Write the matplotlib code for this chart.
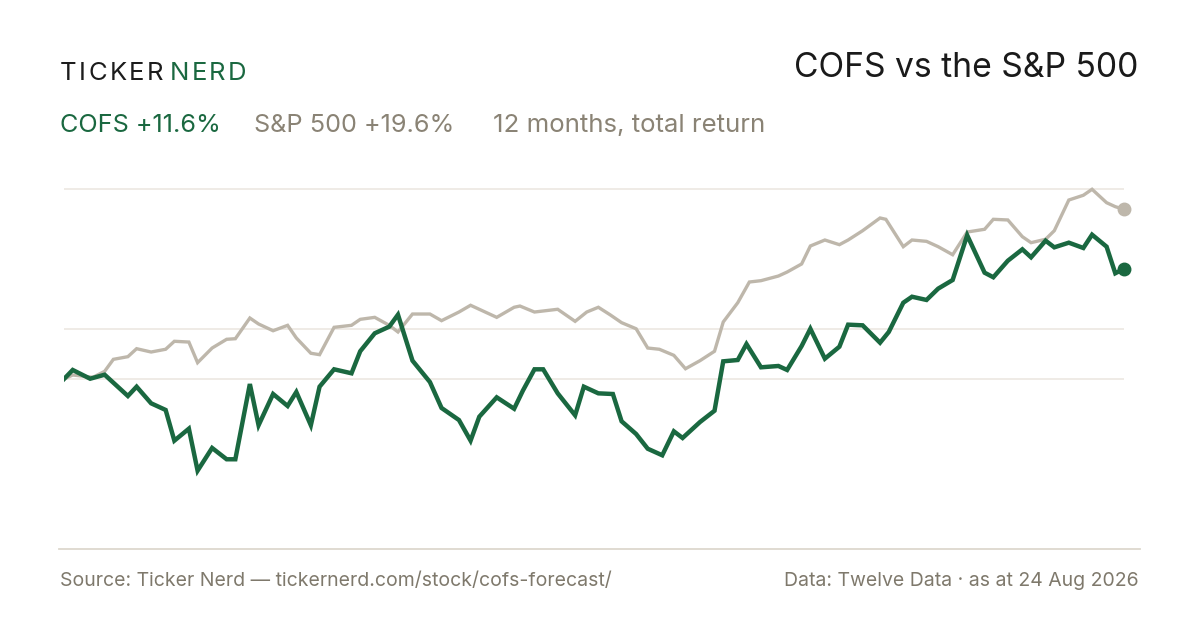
import matplotlib.pyplot as plt
from matplotlib.lines import Line2D

# days since start, % return
cofs_days = [0, 3, 9, 14, 22, 25, 30, 35, 38, 43, 46, 51, 56, 59, 64, 67, 72, 77, 80, 85,
             88, 93, 99, 102, 107, 112, 115, 120, 126, 130, 136, 140, 143, 149, 155, 158,
             162, 165, 170, 176, 179, 184, 189, 192, 197, 201, 206, 210, 213, 219, 224,
             227, 232, 235, 240, 246, 249, 254, 257, 262, 267, 270, 275, 281, 284, 289,
             292, 297, 301, 306, 311, 317, 320, 325, 330, 333, 338, 341, 346, 351, 354,
             359, 362, 365]
cofs_ret = [0.0, 0.95, 0.03, 0.45, -1.79, -0.81, -2.56, -3.26, -6.49, -5.23, -9.65, -7.26,
            -8.45, -8.45, -0.53, -4.87, -1.58, -2.84, -1.37, -4.87, -0.81, 1.02, 0.6, 2.92,
            4.81, 5.51, 6.77, 1.93, -0.32, -3.05, -4.32, -6.49, -3.97, -1.93, -3.13, -1.23,
            1.02, 1.02, -1.51, -3.82, -0.81, -1.51, -1.58, -4.45, -5.79, -7.34, -8.03,
            -5.51, -6.21, -4.53, -3.34, 1.86, 2.0, 3.68, 1.23, 1.37, 0.95, 3.47, 5.29,
            2.14, 3.4, 5.72, 5.65, 3.82, 4.95, 8.03, 8.66, 8.32, 9.51, 10.42, 15.13,
            11.19, 10.71, 12.45, 13.65, 12.81, 14.56, 13.86, 14.35, 13.79, 15.19, 13.93,
            11.13, 11.6]

spx_days = [0, 3, 10, 14, 17, 22, 25, 30, 35, 38, 43, 46, 51, 56, 59, 64, 67, 72, 77, 80,
            85, 88, 93, 99, 102, 107, 112, 115, 120, 126, 130, 136, 140, 149, 155, 157,
            162, 170, 176, 180, 184, 188, 192, 197, 201, 205, 210, 214, 219, 224, 227,
            232, 236, 240, 246, 249, 254, 257, 262, 267, 270, 275, 281, 283, 289, 292,
            297, 301, 306, 311, 317, 320, 325, 330, 333, 338, 341, 346, 351, 354, 359,
            362, 365]
spx_ret = [0.0, 0.42, 0.18, 0.81, 2.07, 2.35, 3.19, 2.84, 3.13, 3.97, 3.89, 1.72, 3.26,
           4.18, 4.24, 6.42, 5.79, 5.08, 5.65, 4.32, 2.71, 2.56, 5.44, 5.65, 6.28, 6.49,
           5.65, 4.95, 6.84, 6.84, 6.14, 7.05, 7.76, 6.49, 7.55, 7.68, 7.05, 7.34, 6.07,
           7.05, 7.55, 6.77, 5.93, 5.29, 3.26, 3.13, 2.49, 1.08, 1.93, 2.92, 6.0, 8.03,
           10.21, 10.35, 10.84, 11.26, 12.11, 14.0, 14.63, 14.14, 14.63, 15.61, 16.95,
           16.81, 13.93, 14.63, 14.49, 13.93, 13.08, 15.47, 15.76, 16.81, 16.74, 14.98,
           14.35, 14.71, 15.61, 18.84, 19.34, 19.97, 18.56, 18.14, 17.86]

grid_vals = [0, 5.26, 20]

GREEN = '#1a6840'
GREY_LINE = '#beb7ab'
GREY_TXT = '#8a8375'
FOOT_TXT = '#7f796c'
FONT = 'Inter'

plt.rcParams['font.family'] = [FONT, 'DejaVu Sans']

fig = plt.figure(figsize=(12, 6.3), dpi=100)
W, H = 1200, 630

def fx(px):
    return px / W

def fy(py):
    return 1 - py / H

ax = fig.add_axes([fx(64), fy(548), fx(1060), (548 - 170) / H])
ax.set_xlim(0, 365)
ax.set_ylim(-17.79, 22.0)
for s in ax.spines.values():
    s.set_visible(False)
ax.set_xticks([])
ax.set_yticks([])
for g in grid_vals:
    ax.axhline(g, color='#ece8e1', lw=1.2, zorder=0)

ax.plot(spx_days, spx_ret, color=GREY_LINE, lw=2.4, solid_joinstyle='miter', zorder=2)
ax.plot(cofs_days, cofs_ret, color=GREEN, lw=3.2, solid_joinstyle='miter', zorder=3)
ax.plot(spx_days[-1], spx_ret[-1], 'o', color=GREY_LINE, ms=9, zorder=4, clip_on=False)
ax.plot(cofs_days[-1], cofs_ret[-1], 'o', color=GREEN, ms=9, zorder=5, clip_on=False)

fig.add_artist(Line2D([fx(59), fx(1140)], [fy(548.5), fy(548.5)], color='#ddd8ce', lw=1.3))

# brand with wide tracking
renderer = fig.canvas.get_renderer()
x = 60
for word, col in [('TICKER', '#1c1c1c'), ('NERD', GREEN)]:
    for ch in word:
        t = fig.text(fx(x), fy(80), ch, color=col, fontsize=18.5, fontfamily=FONT, va='baseline')
        bb = t.get_window_extent(renderer)
        x += bb.width + 2.4
    x += 4

fig.text(fx(1138), fy(77), 'COFS vs the S&P 500', ha='right', va='baseline',
         fontsize=24.2, color='#1a1a1a')

fig.text(fx(60), fy(132), 'COFS +11.6%', color=GREEN, fontsize=18.2, va='baseline')
fig.text(fx(254), fy(132), 'S&P 500 +19.6%', color=GREY_TXT, fontsize=18.2, va='baseline')
fig.text(fx(493), fy(132), '12 months, total return', color=GREY_TXT, fontsize=18.6, va='baseline')

fig.text(fx(60), fy(586), 'Source: Ticker Nerd \u2014 tickernerd.com/stock/cofs-forecast/',
         color=FOOT_TXT, fontsize=14, va='baseline')
fig.text(fx(1139), fy(586), 'Data: Twelve Data \u00b7 as at 24 Aug 2026', color=FOOT_TXT,
         fontsize=14, va='baseline', ha='right')

fig.savefig('out.png', dpi=100, facecolor='white')
